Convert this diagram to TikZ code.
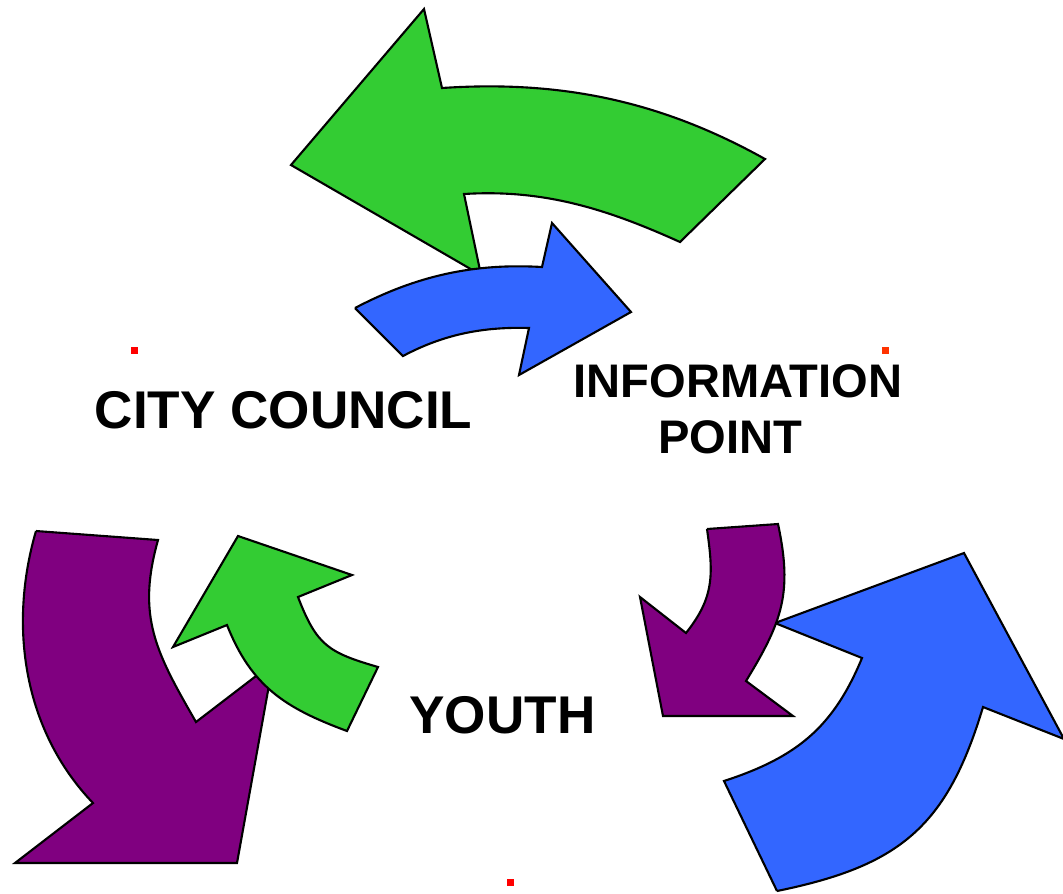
\documentclass[tikz,border=0pt]{standalone}
\usepackage{fontspec}
\setmainfont{Liberation Sans}
\definecolor{arrgreen}{HTML}{33CC33}
\definecolor{arrblue}{HTML}{3366FF}
\definecolor{arrpurple}{HTML}{800080}
\definecolor{dotred}{HTML}{FF0000}
\definecolor{dotorange}{HTML}{FF3300}
\begin{document}
\begin{tikzpicture}[x=0.01cm,y=-0.01cm,
    blk/.style={draw=black,line width=0.6pt,line join=miter},
    lbl/.style={font=\bfseries\fontsize{15.1}{18}\selectfont,anchor=base,inner sep=0pt},
    lblsmall/.style={lbl,font=\bfseries\fontsize{13.4}{16}\selectfont},
    redsq/.style={fill=#1,draw=none}]
    \useasboundingbox (0,0) rectangle (1063,893);

    % top pair
    \filldraw[blk,fill=arrgreen] (291,165) -- (424,9) -- (442,88)
        .. controls (561,80) and (661,101) .. (765,159)
        -- (680,242)
        .. controls (607,209) and (544,189) .. (464,194)
        -- (481,275) -- cycle;
    \filldraw[blk,fill=arrblue] (355,308) -- (403,356)
        .. controls (443.5,334.4) and (483,326.6) .. (529,328)
        -- (519,375) -- (631,312) -- (552,223) -- (542,267)
        .. controls (473,263) and (416,276) .. (355,308);

    % left pair
    \filldraw[blk,fill=arrpurple] (36,531) -- (158,540)
        .. controls (136.4,616.8) and (156,652.4) .. (196,722)
        -- (273,663) -- (237,863) -- (15,863) -- (93,803)
        .. controls (24,731) and (8,627) .. (36,531);
    \filldraw[blk,fill=arrgreen] (238,536) -- (352,575) -- (298,597)
        .. controls (316.7,645.4) and (328,652.4) .. (378,667)
        -- (347,731)
        .. controls (285,708) and (251.4,686.4) .. (227,625)
        -- (173,647) -- cycle;

    % right pair
    \filldraw[blk,fill=arrblue] (777,891) -- (724,781)
        .. controls (796.2,757.4) and (833.1,727.9) .. (862,658)
        -- (775,623) -- (964,553) -- (1064,739) -- (983,707)
        .. controls (947,827) and (899.5,866) .. (777,891);
    \filldraw[blk,fill=arrpurple] (707,529) -- (778,524)
        .. controls (792.7,592.6) and (782.4,621.5) .. (746,681)
        -- (793,716) -- (663,716) -- (640,597) -- (686,633)
        .. controls (714.5,597.1) and (713.4,574.5) .. (707,529);

    \node[lbl] (council) at (283.5,428) {CITY COUNCIL};
    \node[lblsmall] (info) at (738,397) {INFORMATION};
    \node[lblsmall] (point) at (730,453) {POINT};
    \node[lbl] (youth) at (502.5,733) {YOUTH};

    \fill[redsq=dotred] (131,347) rectangle (138,354);
    \fill[redsq=dotorange] (882,347) rectangle (889,354);
    \fill[redsq=dotred] (507,879) rectangle (514,886);
\end{tikzpicture}
\end{document}
